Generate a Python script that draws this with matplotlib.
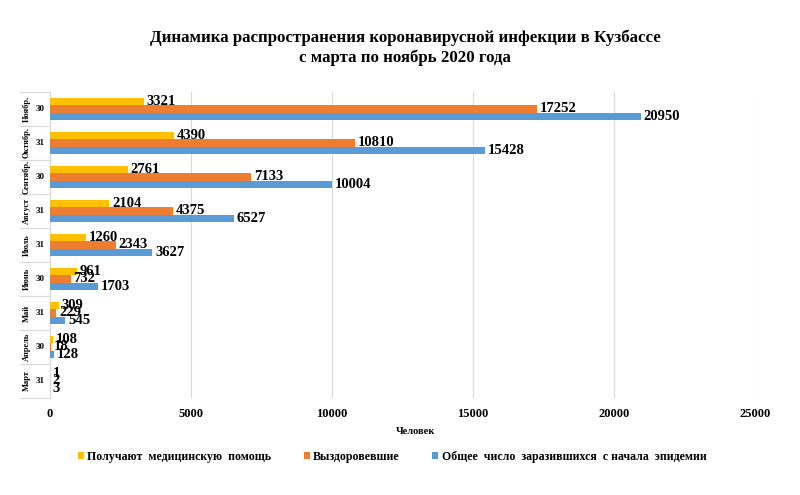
import matplotlib
matplotlib.use("Agg")
import matplotlib.pyplot as plt
from matplotlib.lines import Line2D
from matplotlib.patches import Patch
import matplotlib.transforms as mtransforms
import numpy as np

plt.rcParams['font.family'] = ['Liberation Serif', 'DejaVu Serif']
plt.rcParams['font.weight'] = 'bold'

months = ["Март", "Апрель", "Май", "Июнь", "Июль", "Август", "Сентябр.", "Октябр.", "Ноябр."]
days = ["31", "30", "31", "30", "31", "31", "30", "31", "30"]
treated = [1, 108, 309, 961, 1260, 2104, 2761, 4390, 3321]
recovered = [2, 18, 229, 732, 2343, 4375, 7133, 10810, 17252]
total = [3, 128, 545, 1703, 3627, 6527, 10004, 15428, 20950]
xticks = [0, 5000, 10000, 15000, 20000, 25000]

series_names = ["Получают  медицинскую  помощь", "Выздоровевшие",
                "Общее  число  заразившихся  с начала  эпидемии"]
colors = ["#FFC000", "#ED7D31", "#5B9BD5"]

fig = plt.figure(figsize=(8, 4.95), dpi=100)
W, H = 800, 495
ax = fig.add_axes([50 / W, 1 - 398 / H, 705 / W, (398 - 92) / H])

y = np.arange(len(months))
bh = 0.22
for vals, off, c in zip([treated, recovered, total], [bh, 0, -bh], colors):
    cont = ax.barh(y + off, vals, height=bh, color=c, zorder=3)
    ax.bar_label(cont, padding=2, fontsize=10.5, fontweight='bold', color='black')

ax.set_xlim(0, 25000)
ax.set_ylim(-0.5, len(months) - 0.5)
ax.set_xticks(xticks)
ax.set_xticklabels([str(t) for t in xticks], fontsize=9, fontweight='bold')
ax.tick_params(axis='x', length=0, pad=7)
ax.set_yticks([])
ax.grid(axis='x', color='#D9D9D9', linewidth=0.8, zorder=0)
for s in ['top', 'right', 'bottom']:
    ax.spines[s].set_visible(False)
ax.spines['left'].set_color('#D9D9D9')

tr = mtransforms.blended_transform_factory(fig.transFigure, ax.transData)
for i, (m, d) in enumerate(zip(months, days)):
    ax.text(27 / W, i, m, transform=tr, rotation=90, ha='center', va='center',
            fontsize=6, fontweight='bold')
    ax.text(40 / W, i, d, transform=tr, ha='center', va='center',
            fontsize=6.5, fontweight='bold')
for b in np.arange(-0.5, len(months), 1.0):
    ax.add_line(Line2D([20 / W, 50 / W], [b, b], transform=tr, color='#D9D9D9',
                       linewidth=0.8, clip_on=False))

fig.text(405 / W, 1 - 48 / H,
         "Динамика распространения коронавирусной инфекции в Кузбассе\nс марта по ноябрь 2020 года",
         ha='center', va='center', fontsize=12.2, fontweight='bold', linespacing=1.3)
fig.text(415 / W, 1 - 432 / H, "Человек", ha='center', va='center', fontsize=7.5,
         fontweight='bold')

handles = [Patch(facecolor=c, edgecolor='none') for c in colors]
fig.legend(handles, series_names, loc='center', bbox_to_anchor=(392 / W, 1 - 457 / H),
           ncol=3, frameon=False, handlelength=0.5, handleheight=0.5,
           handletextpad=0.3, columnspacing=2.7, prop={'weight': 'bold', 'size': 8.6})

fig.savefig("out.png", dpi=100)
